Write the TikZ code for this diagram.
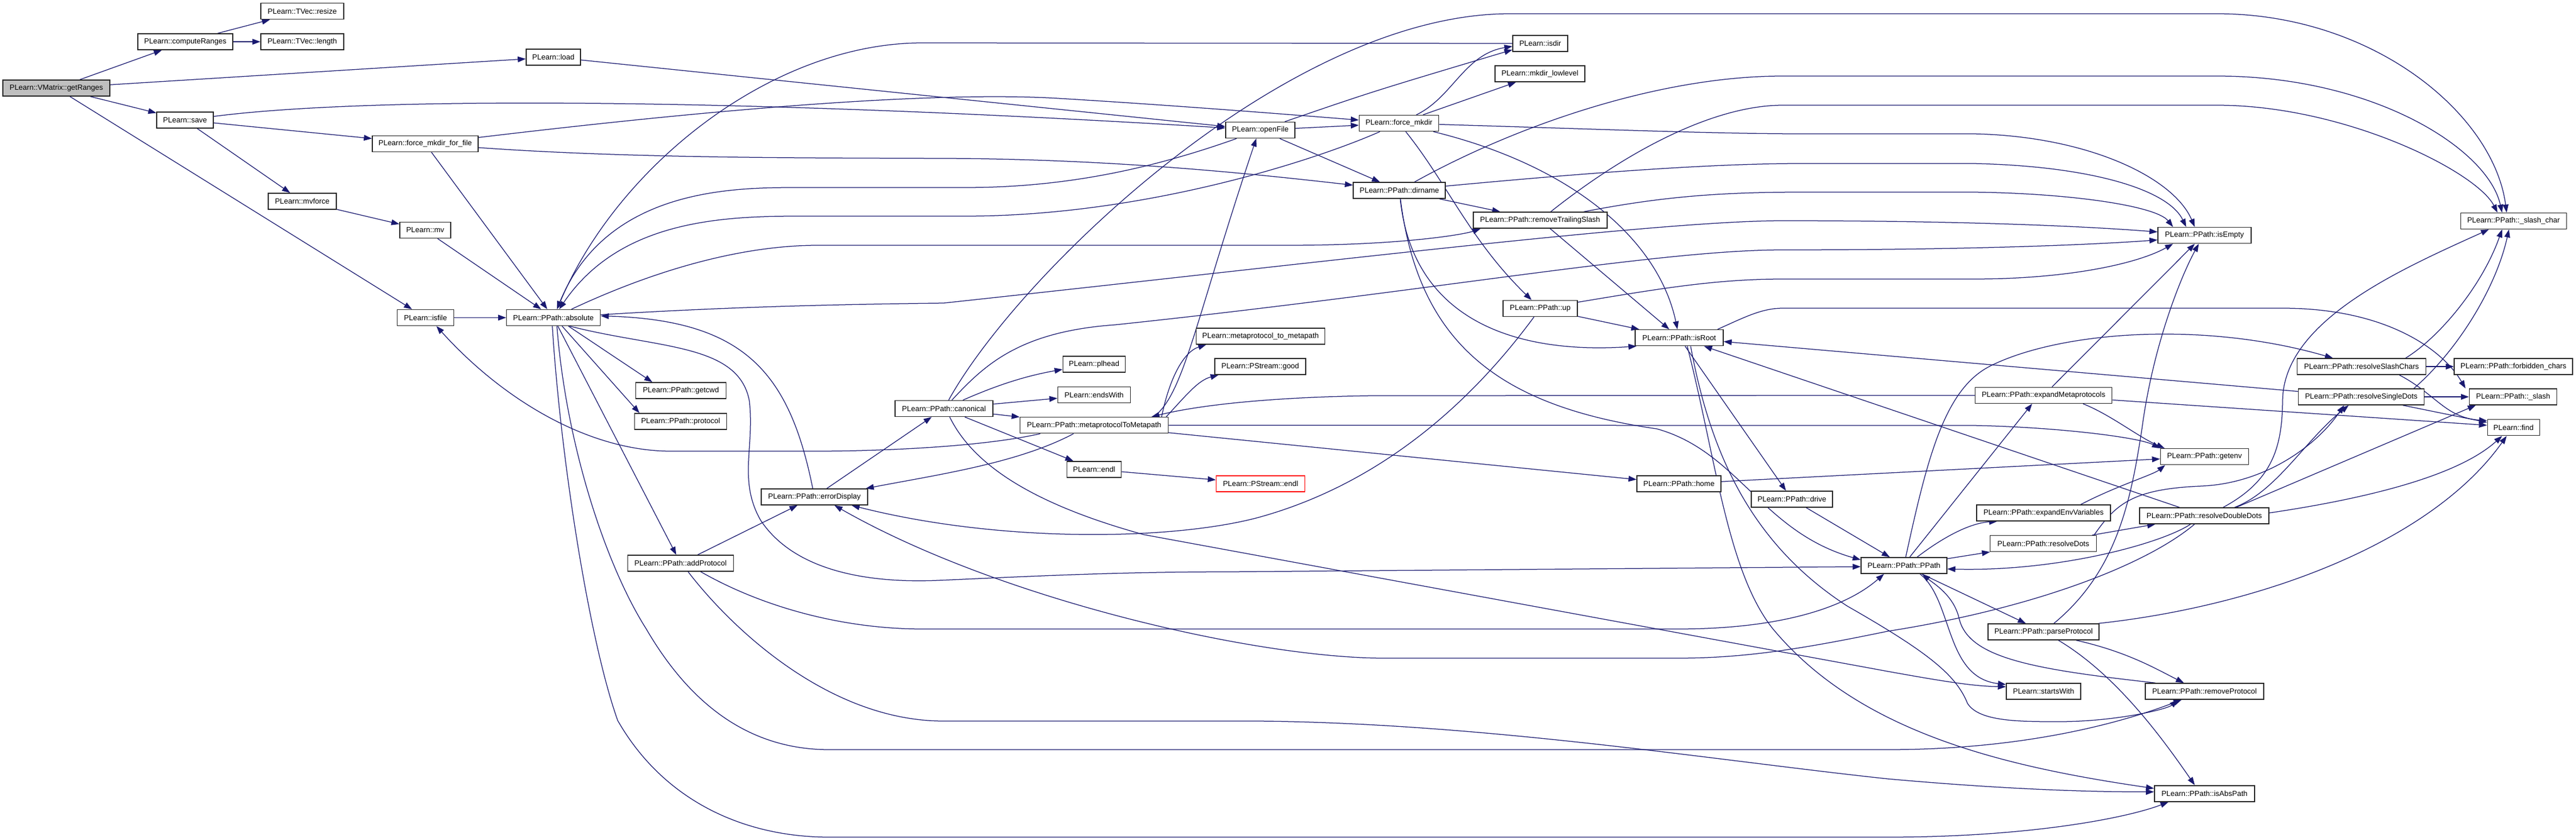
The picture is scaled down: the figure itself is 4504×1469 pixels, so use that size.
\documentclass[tikz,border=0pt]{standalone}
\usepackage{fontspec}
\setmainfont{Liberation Sans}
\usetikzlibrary{arrows.meta}
\definecolor{ec}{HTML}{191970}
\pgfdeclarelayer{bg}
\pgfsetlayers{bg,main}
\tikzset{
  nd/.style={draw=black!85, line width=1.5pt, fill=white, minimum height=28pt, inner sep=0pt, font=\fontsize{13}{13}\selectfont, text=black},
  e/.style={draw=ec, line width=1.25pt, -{Triangle[length=14pt,width=10pt]}}
}
\begin{document}
\begin{tikzpicture}[x=1pt,y=-1pt]
\useasboundingbox (0,0) rectangle (4504,1469);
\node[nd,minimum width=187pt,fill=black!25] (gr) at (98.5,154) {PLearn::VMatrix::getRanges};
\node[nd,minimum width=166pt] (cr) at (324,73) {PLearn::computeRanges};
\node[nd,minimum width=145pt] (rsz) at (528.5,19.6) {PLearn::TVec::resize};
\node[nd,minimum width=145pt] (len) at (528.5,73) {PLearn::TVec::length};
\node[nd,minimum width=95pt] (load) at (967.5,100) {PLearn::load};
\node[nd,minimum width=99pt] (save) at (323.5,210) {PLearn::save};
\node[nd,minimum width=185pt] (ffmff) at (743.5,251.5) {PLearn::force\_mkdir\_for\_file};
\node[nd,minimum width=119pt] (mvf) at (528.5,352) {PLearn::mvforce};
\node[nd,minimum width=89pt] (mv) at (743.5,402.5) {PLearn::mv};
\node[nd,minimum width=99pt] (isfile) at (744,555.5) {PLearn::isfile};
\node[nd,minimum width=164pt] (abs) at (967.7,555.5) {PLearn::PPath::absolute};
\node[nd,minimum width=158pt] (getcwd) at (1190.5,683) {PLearn::PPath::getcwd};
\node[nd,minimum width=161pt] (proto) at (1190,737) {PLearn::PPath::protocol};
\node[nd,minimum width=185pt] (addp) at (1190,985) {PLearn::PPath::addProtocol};
\node[nd,minimum width=186pt] (errd) at (1424,869) {PLearn::PPath::errorDisplay};
\node[nd,minimum width=171pt] (canon) at (1650.5,714.5) {PLearn::PPath::canonical};
\node[nd,minimum width=109pt] (plhead) at (1913,637) {PLearn::plhead};
\node[nd,minimum width=127pt] (endsw) at (1913,690.6) {PLearn::endsWith};
\node[nd,minimum width=259pt] (m2m) at (1913,743.7) {PLearn::PPath::metaprotocolToMetapath};
\node[nd,minimum width=95pt] (endl) at (1913,820.8) {PLearn::endl};
\node[nd,minimum width=121pt] (openf) at (2203.5,227.5) {PLearn::openFile};
\node[nd,minimum width=225pt] (mtm) at (2204,588) {PLearn::metaprotocol\_to\_metapath};
\node[nd,minimum width=159pt] (good) at (2203.5,641) {PLearn::PStream::good};
\node[nd,minimum width=155pt,draw=red] (pendl) at (2204,846) {PLearn::PStream::endl};
\node[nd,minimum width=96pt] (isdir) at (2693,76) {PLearn::isdir};
\node[nd,minimum width=157pt] (mkll) at (2692.6,129) {PLearn::mkdir\_lowlevel};
\node[nd,minimum width=139pt] (fmk) at (2446,215.5) {PLearn::force\_mkdir};
\node[nd,minimum width=161pt] (dirn) at (2446.7,333) {PLearn::PPath::dirname};
\node[nd,minimum width=234pt] (rts) at (2692.8,385) {PLearn::PPath::removeTrailingSlash};
\node[nd,minimum width=130pt] (up) at (2693,539.4) {PLearn::PPath::up};
\node[nd,minimum width=154pt] (isroot) at (2936,590.7) {PLearn::PPath::isRoot};
\node[nd,minimum width=147pt] (home) at (2935.6,846) {PLearn::PPath::home};
\node[nd,minimum width=142pt] (drive) at (3133,873) {PLearn::PPath::drive};
\node[nd,minimum width=150pt] (ppath) at (3329,989) {PLearn::PPath::PPath};
\node[nd,minimum width=163pt] (isempty) at (3854.4,411.6) {PLearn::PPath::isEmpty};
\node[nd,minimum width=185pt] (slc) at (4394.7,386.5) {PLearn::PPath::\_slash\_char};
\node[nd,minimum width=225pt] (rsc) at (4129,641) {PLearn::PPath::resolveSlashChars};
\node[nd,minimum width=207pt] (fbc) at (4394.6,641) {PLearn::PPath::forbidden\_chars};
\node[nd,minimum width=220pt] (rsd) at (4128.5,694) {PLearn::PPath::resolveSingleDots};
\node[nd,minimum width=153pt] (sl) at (4394,694) {PLearn::PPath::\_slash};
\node[nd,minimum width=239pt] (expm) at (3573,691.4) {PLearn::PPath::expandMetaprotocols};
\node[nd,minimum width=91pt] (find) at (4394.7,747.7) {PLearn::find};
\node[nd,minimum width=154pt] (getenv) at (3854.4,798.6) {PLearn::PPath::getenv};
\node[nd,minimum width=234pt] (expenv) at (3573,897) {PLearn::PPath::expandEnvVariables};
\node[nd,minimum width=186pt] (rdots) at (3572.6,950.5) {PLearn::PPath::resolveDots};
\node[nd,minimum width=226pt] (rdd) at (3854,902) {PLearn::PPath::resolveDoubleDots};
\node[nd,minimum width=194pt] (parsep) at (3573,1105) {PLearn::PPath::parseProtocol};
\node[nd,minimum width=130pt] (startsw) at (3573,1209) {PLearn::startsWith};
\node[nd,minimum width=207pt] (remp) at (3854.4,1209) {PLearn::PPath::removeProtocol};
\node[nd,minimum width=175pt] (isabs) at (3854.4,1387.8) {PLearn::PPath::isAbsPath};

\begin{pgfonlayer}{bg}
\fill[white] (0,0) rectangle (4504,1469);
% getRanges
\draw[e] (gr) -- (cr);
\draw[e] (gr) -- (load);
\draw[e] (gr) -- (save);
\draw[e] (gr) -- (isfile);
\draw[e] (cr) -- (rsz);
\draw[e] (cr) -- (len);
\draw[e] (load) -- (openf);
\draw[e] (save) .. controls (650,168) and (1300,172) .. (openf);
\draw[e] (save) -- (ffmff);
\draw[e] (save) -- (mvf);
\draw[e] (ffmff) .. controls (1300,185) and (1650,160) .. (1850,172) .. controls (2050,184) and (2250,200) .. (fmk);
\draw[e] (ffmff) .. controls (1100,277) and (1400,276) .. (1650,277) .. controls (1950,278) and (2200,305) .. (dirn);
\draw[e] (ffmff) -- (abs);
\draw[e] (mvf) -- (mv);
\draw[e] (mv) -- (abs);
\draw[e] (isfile) -- (abs);
% into absolute from the right
\draw[e] (isdir.west) -- (1613,75) .. controls (1350,75) and (1080,290) .. (abs);
\draw[e] (openf) .. controls (2000,300) and (1850,328) .. (1687,328) -- (1393,328) .. controls (1280,328) and (1060,330) .. (abs);
\draw[e] (fmk) .. controls (2300,280) and (2000,378) .. (1687,378) -- (1393,378) .. controls (1250,378) and (1080,390) .. (abs);
\draw[e] (errd) .. controls (1380,650) and (1300,560) .. ([yshift=3]abs.east);
% absolute outgoing
\draw[e] (abs) .. controls (1150,470) and (1300,429) .. (1430,429) -- (2250,429) .. controls (2450,429) and (2560,410) .. ([xshift=-104]rts.south);
\draw[e] (abs) .. controls (1300,535) and (1500,532) .. (1650,530) .. controls (2300,460) and (2900,386) .. (3117,386) .. controls (3500,386) and (3700,400) .. ([yshift=6]isempty.west);
\draw[e] ([xshift=28]abs.south) .. controls (1150,610) and (1290,600) .. (1310,700) .. controls (1320,780) and (1290,840) .. (1330,910) .. controls (1390,1000) and (1520,1020) .. (1640,1015) .. controls (1800,1008) and (1950,1000) .. (2150,1000) -- ([yshift=-2]ppath.west);
\draw[e] ([xshift=26]abs.south) -- ([xshift=-50]getcwd.north);
\draw[e] ([xshift=15]abs.south) -- ([xshift=-72]proto.north);
\draw[e] (abs) -- (addp);
\draw[e] ([xshift=6]abs.south) .. controls (990,780) and (1060,990) .. (1130,1100) .. controls (1200,1220) and (1300,1311) .. (1450,1311) -- (3300,1311) .. controls (3550,1311) and (3720,1260) .. ([xshift=-40]remp.south);
\draw[e] ([xshift=-2]abs.south) .. controls (980,800) and (1030,1120) .. (1080,1260) .. controls (1160,1400) and (1300,1464) .. (1450,1464) -- (3300,1464) .. controls (3550,1464) and (3720,1430) .. ([xshift=-63]isabs.south);
% metaprotocolToMetapath
\draw[e] ([xshift=-94]m2m.south) .. controls (1700,785) and (1500,789) .. (1430,789) -- (1173,789) .. controls (1030,789) and (880,700) .. ([xshift=19]isfile.south);
\draw[e] ([xshift=-36]m2m.south) .. controls (1780,810) and (1640,830) .. ([xshift=-4]errd.north east);
\draw[e] ([xshift=104]m2m.north) .. controls (2070,690) and (2090,560) .. ([xshift=-7]openf.south);
\draw[e] ([xshift=118]m2m.north) .. controls (2045,660) and (2070,615) .. ([xshift=-95]mtm.south);
\draw[e] ([xshift=126]m2m.north) .. controls (2075,690) and (2095,665) .. ([xshift=-73]good.south);
\draw[e] (m2m) -- (home);
\draw[e] (m2m.east) -- (3450,744) .. controls (3600,747) and (3740,765) .. (getenv.north west);
\draw[e] (expm.west) -- (2400,692) .. controls (2250,694) and (2110,705) .. ([xshift=-30]m2m.north east);
% addProtocol / errorDisplay / canonical
\draw[e] (addp) -- (errd);
\draw[e] ([xshift=35]addp.south) .. controls (1330,1060) and (1470,1100) .. (1613,1100) -- (2933,1100) .. controls (3120,1100) and (3230,1060) .. ([xshift=-35]ppath.south);
\draw[e] ([xshift=13]addp.south) .. controls (1280,1100) and (1450,1261) .. (1650,1261) -- (2200,1261) .. controls (2600,1265) and (3000,1330) .. (3300,1362) .. controls (3500,1380) and (3650,1385) .. ([yshift=3]isabs.west);
\draw[e] (errd) -- (canon);
\draw[e] ([xshift=33]canon.north) .. controls (1740,675) and (1790,658) .. ([yshift=-9]plhead.west);
\draw[e] (canon) -- (endsw);
\draw[e] (canon) -- (m2m);
\draw[e] (canon) -- (endl);
\draw[e] ([xshift=10]canon.south) .. controls (1700,810) and (1800,880) .. (2000,935) -- (3300,1174) .. controls (3400,1192) and (3450,1200) .. ([yshift=8]startsw.west);
\draw[e] (canon) .. controls (1720,640) and (1780,580) .. (1950,568) .. controls (2500,510) and (2900,437) .. (3117,437) .. controls (3500,437) and (3700,425) .. ([yshift=-8]isempty.west);
\draw[e] (canon) .. controls (1780,480) and (2250,24) .. (2640,24) -- (3876,24) .. controls (4150,24) and (4360,200) .. ([xshift=-12]slc.north);
\draw[e] (endl) -- (pendl);
% openFile / force_mkdir / dirname
\draw[e] (openf) .. controls (2400,160) .. ([yshift=-11]isdir.west);
\draw[e] (openf) -- (fmk);
\draw[e] (openf) -- (dirn);
\draw[e] (fmk) .. controls (2540,170) and (2560,95) .. ([yshift=-5]isdir.west);
\draw[e] (fmk) -- (mkll);
\draw[e] (fmk) .. controls (2530,320) and (2570,420) .. (up);
\draw[e] (fmk) .. controls (2750,290) and (2900,420) .. (isroot);
\draw[e] (fmk) .. controls (2800,226) and (3000,234) .. (3150,234) -- (3450,234) .. controls (3650,238) and (3800,310) .. ([xshift=-17]isempty.north);
\draw[e] (dirn) -- (rts);
\draw[e] (dirn) .. controls (2470,560) and (2650,620) .. ([xshift=3]isroot.south west);
\draw[e] (dirn) .. controls (2480,600) and (2620,710) .. (2897,750) .. controls (3040,790) and (3080,930) .. ([yshift=10]ppath.west);
\draw[e] (dirn) .. controls (2800,300) and (3000,286) .. (3150,286) -- (3450,286) .. controls (3650,290) and (3790,330) .. ([xshift=-32]isempty.north);
\draw[e] (dirn) .. controls (2650,220) and (2900,133) .. (3117,133) -- (3876,133) .. controls (4150,133) and (4350,260) .. ([xshift=-20]slc.north);
\draw[e] (rts) -- (isroot);
\draw[e] (rts) .. controls (2900,345) and (3000,336) .. (3150,336) -- (3450,336) .. controls (3620,338) and (3770,360) .. ([xshift=-55]isempty.north);
\draw[e] (rts) .. controls (2850,260) and (3000,184) .. (3117,184) -- (3876,184) .. controls (4100,184) and (4330,300) .. ([xshift=-28]slc.north);
\draw[e] (up) -- (isroot);
\draw[e] (up) .. controls (2900,505) and (3000,488) .. (3117,488) -- (3450,488) .. controls (3620,488) and (3740,460) .. ([xshift=-55]isempty.south);
\draw[e] (up) .. controls (2560,720) and (2400,850) .. (2200,905) .. controls (2050,945) and (1750,950) .. ([xshift=65]errd.south);
% isRoot
\draw[e] (isroot) -- (drive);
\draw[e] (drive) -- (ppath);
\draw[e] ([xshift=14]isroot.south) .. controls (3000,800) and (3020,1000) .. (3100,1100) .. controls (3250,1280) and (3500,1340) .. ([yshift=9]isabs.west);
\draw[e] ([xshift=20]isroot.south) .. controls (2990,790) and (3060,950) .. (3230,1060) .. controls (3370,1140) and (3420,1180) .. (3440,1230) .. controls (3460,1262) and (3530,1262) .. (3600,1262) .. controls (3700,1262) and (3790,1240) .. ([xshift=-47]remp.south);
\draw[e] ([xshift=67]isroot.north) .. controls (3050,555) and (3080,539) .. (3117,539) -- (3991,539) .. controls (4170,539) and (4270,610) .. ([xshift=-6]sl.north west);
% PPath
\draw[e] ([xshift=23]ppath.north) .. controls (3390,945) and (3440,915) .. ([xshift=-81]expenv.south);
\draw[e] (ppath) -- (rdots);
\draw[e] (ppath) -- (parsep);
\draw[e] ([xshift=28]ppath.south) .. controls (3415,1050) and (3400,1185) .. ([yshift=12]startsw.west);
\draw[e] ([xshift=-86]remp.north) .. controls (3550,1170) and (3440,1150) .. (3425,1080) .. controls (3415,1040) and (3380,1020) .. ([xshift=32]ppath.south);
\draw[e] ([xshift=3]ppath.north) .. controls (3370,800) and (3400,680) .. (3480,640) .. controls (3600,580) and (3850,560) .. ([xshift=-50]rsc.north);
\draw[e] ([xshift=10]ppath.north) -- ([xshift=-20]expm.south);
% parseProtocol
\draw[e] ([xshift=57]parsep.south) .. controls (3720,1140) and (3770,1170) .. ([xshift=-36]remp.north);
\draw[e] ([xshift=26]parsep.south) .. controls (3700,1180) and (3780,1290) .. ([xshift=-17]isabs.north);
\draw[e] ([xshift=-2]parsep.north east) .. controls (3950,1060) and (4250,950) .. ([xshift=-12]find.south);
\draw[e] ([xshift=18]parsep.north) .. controls (3700,1000) and (3725,880) .. (3745,750) .. controls (3765,600) and (3815,480) .. ([xshift=-10]isempty.south);
% expandMetaprotocols / getenv
\draw[e] (expm) -- ([xshift=-17]isempty.south);
\draw[e] (expm) -- ([yshift=4]find.west);
\draw[e] ([xshift=69]expm.south) .. controls (3690,725) and (3740,765) .. ([xshift=8]getenv.north west);
\draw[e] ([xshift=65]expenv.north) .. controls (3700,850) and (3765,830) .. ([xshift=9]getenv.south west);
\draw[e] (home) -- ([yshift=-4]getenv.west);
% resolve*
\draw[e] (rdots) -- (rdd);
\draw[e] ([xshift=-5]rdots.north east) .. controls (3700,880) and (3730,855) .. (3850,850) .. controls (3960,845) and (4050,780) .. ([xshift=-30]rsd.south);
\draw[e] (rdd) -- (isroot);
\draw[e] ([xshift=-24]rdd.south) .. controls (3780,950) and (3600,1000) .. ([yshift=-6]ppath.east);
\draw[e] ([xshift=-17]rdd.south) .. controls (3750,990) and (3550,1065) .. (3300,1104) .. controls (3150,1135) and (3050,1151) .. (2933,1151) -- (2420,1151) .. controls (2200,1151) and (1750,1050) .. ([xshift=35]errd.south);
\draw[e] ([xshift=53]rdd.north) .. controls (3980,860) and (4030,770) .. ([xshift=-22]rsd.south);
\draw[e] ([xshift=56]rdd.north) -- ([xshift=12]sl.south west);
\draw[e] ([yshift=5]rdd.east) .. controls (4150,870) and (4300,830) .. ([xshift=-20]find.south);
\draw[e] ([xshift=33]rdd.north) .. controls (3975,840) and (3990,780) .. (3991,700) .. controls (3993,560) and (4200,470) .. ([xshift=-43]slc.south);
\draw[e] (rsd) -- (isroot);
\draw[e] (rsd) -- (sl);
\draw[e] (rsd) -- ([yshift=9]find.west);
\draw[e] ([xshift=92]rsd.north) .. controls (4300,610) and (4365,500) .. ([xshift=-8]slc.south);
\draw[e] (rsc) -- (fbc);
\draw[e] ([xshift=77]rsc.north) .. controls (4265,590) and (4340,500) .. ([xshift=-20]slc.south);
\draw[e] ([xshift=66]rsc.south) .. controls (4260,690) and (4275,730) .. ([yshift=12]find.west);
\end{pgfonlayer}
\end{tikzpicture}
\end{document}
